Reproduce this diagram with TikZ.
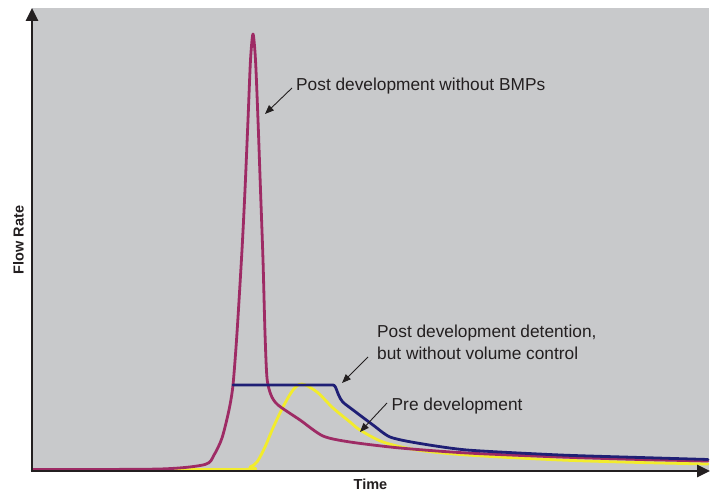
\documentclass[tikz,border=0pt]{standalone}
\usepackage{fontspec}
\setmainfont{Liberation Sans}
\usetikzlibrary{arrows.meta}
\definecolor{bggray}{HTML}{C8C9CB}
\definecolor{axisdark}{HTML}{231F20}
\definecolor{postmag}{HTML}{9E2B65}
\definecolor{detblue}{HTML}{1F1F75}
\definecolor{preyel}{HTML}{F2EC2C}
\tikzset{
  axisline/.style={draw=axisdark, line width=2.6pt, -{Triangle[length=13pt,width=12pt]}},
  curve/.style={line width=2.8pt, line join=round, line cap=round},
  lbl/.style={font=\fontsize{17.3}{22}\selectfont, text=axisdark, inner sep=0pt, anchor=west, align=left},
  axlbl/.style={font=\bfseries\fontsize{14.5}{17}\selectfont, text=axisdark, inner sep=0pt},
  pointer/.style={draw=axisdark, line width=0.9pt, -{Triangle[length=9pt,width=7pt]}}
}
\begin{document}
\begin{tikzpicture}[x=1pt,y=-1pt]
\useasboundingbox (0,0) rectangle (716,492);
\fill[white] (0,0) rectangle (716,492);
\fill[bggray] (32,8) rectangle (709,471);

% Pre development (yellow)
\draw[curve, preyel] plot[smooth, tension=0.5] coordinates {
 (33,469.5) (240,469.5) (250,467) (257,462) (265,447) (273,428) (283,407) (293,390) (302,384)
 (317,392) (333,408) (350,422) (360,430) (383,442) (417,450) (467,455) (560,460) (640,462.5) (708,464)};

% Post development without BMPs (magenta)
\draw[curve, postmag] plot[smooth, tension=0.45] coordinates {
 (33,469.5) (160,469) (205,464.5) (214,455) (222,438) (229,410) (233,385) (237,333) (242,250) (245,190)
 (248,120) (250.5,60) (253,34) (255.5,60) (258,120) (260.5,190) (263,260) (265,333) (267,378)
 (271,395) (278,405) (300,420) (323,436) (350,442) (400,448) (467,453) (560,457) (640,459.5) (708,461)};

% Post development detention (blue)
\draw[curve, detblue] (233,385) -- (333,385) .. controls (337,385) and (337,398) .. (345,404)
  plot[smooth, tension=0.4] coordinates {
 (345,404) (357,413) (373,425) (390,437) (417,443)
 (467,450) (560,455) (640,457.5) (708,459.5)};

% axes
\coordinate (orig) at (32,471);
\coordinate (ytip) at (32,8);
\coordinate (xtip) at (710,471);
\draw[axisline] (orig) -- (ytip);
\draw[axisline] ([xshift=-1.3pt]orig) -- (xtip);

\node[axlbl] (xlab) at (370.5,484) {Time};
\node[axlbl, rotate=90] (ylab) at (18.5,240) {Flow Rate};

% labels
\node[lbl] (l1) at (296,86.5) {Post development without BMPs};
\node[lbl, anchor=north west] (l2) at (377,324.5) {Post development detention,\\but without volume control};
\node[lbl] (l3) at (391.5,406) {Pre development};

\coordinate (t1) at (265,114);
\coordinate (t2) at (342,383);
\coordinate (t3) at (360,432);
\coordinate (s1) at (292,88);
\coordinate (s2) at (368,357);
\coordinate (s3) at (387,403);
\draw[pointer] (s1) -- (t1);
\draw[pointer] (s2) -- (t2);
\draw[pointer] (s3) -- (t3);
\end{tikzpicture}
\end{document}
